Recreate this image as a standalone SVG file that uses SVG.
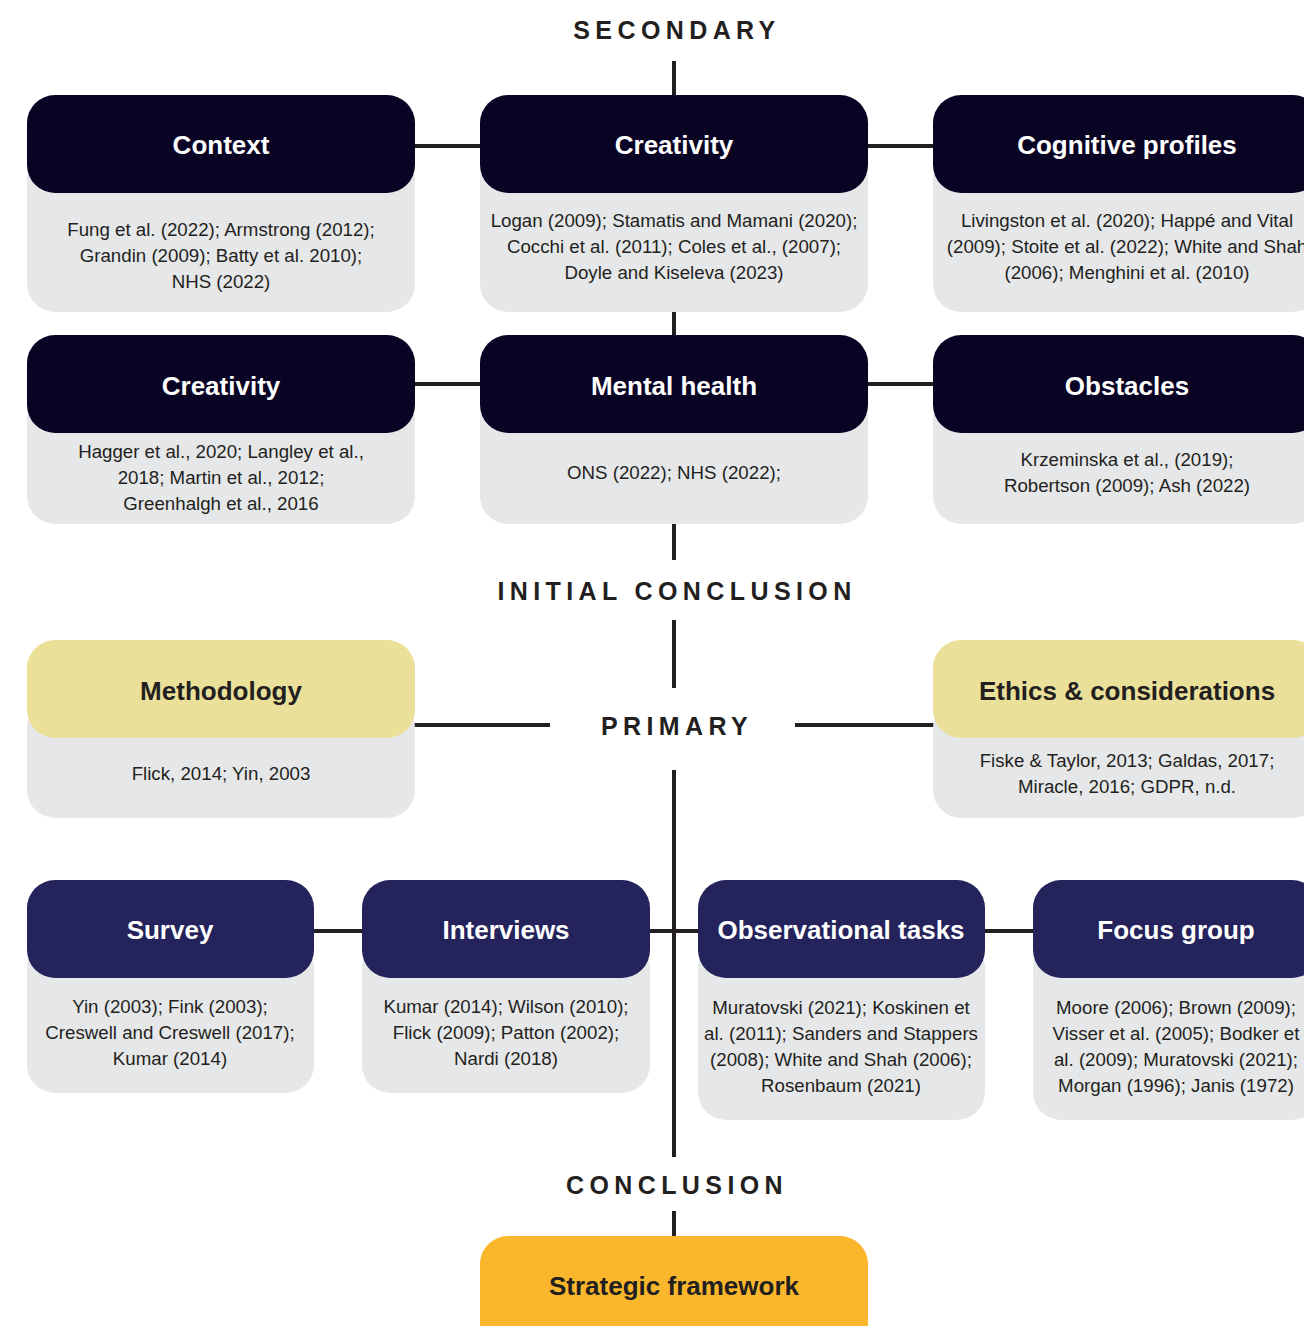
<svg xmlns="http://www.w3.org/2000/svg" width="1304" height="1326" viewBox="0 0 1304 1326">
<style>
.bg{fill:#ffffff}
.card{fill:#e6e7e9}
.hd{fill:#0a0424}
.hb{fill:#24235c}
.hy{fill:#ebe09a}
.ho{fill:#fbb72c}
.ht{font-family:"Liberation Sans",Arial,sans-serif;font-weight:bold;font-size:26px;fill:#ffffff;text-anchor:middle}
.htd{font-family:"Liberation Sans",Arial,sans-serif;font-weight:bold;font-size:26px;fill:#231f20;text-anchor:middle}
.bt{font-family:"Liberation Sans",Arial,sans-serif;font-size:18.7px;fill:#231f20;text-anchor:middle}
.lb{font-family:"Liberation Sans",Arial,sans-serif;font-weight:bold;font-size:25px;fill:#231f20;text-anchor:middle;letter-spacing:5.4px}
.cn{stroke:#231f20;stroke-width:4;fill:none}
</style>
<rect class="bg" x="0" y="0" width="1304" height="1326"/>
<g id="connectors">
<path class="cn" d="M674 61V95 M674 312V335 M674 524V560 M674 620V688 M674 770V1157 M674 1211V1236"/>
<path class="cn" d="M415 146H480 M868 146H933 M415 384H480 M868 384H933"/>
<path class="cn" d="M410 725H550 M795 725H940"/>
<path class="cn" d="M314 931H362 M650 931H698 M985 931H1033"/>
</g>
<g id="labels">
<text class="lb" x="677" y="39">SECONDARY</text>
<text class="lb" x="677" y="600">INITIAL CONCLUSION</text>
<text class="lb" x="677" y="735">PRIMARY</text>
<text class="lb" x="677" y="1194">CONCLUSION</text>
</g>
<g id="context">
<rect class="card" x="27" y="150" width="388" height="162" rx="28"/>
<rect class="hd" x="27" y="95" width="388" height="98" rx="28"/>
<text class="ht" x="221" y="154">Context</text>
<text class="bt" x="221" y="236">Fung et al. (2022); Armstrong (2012);</text>
<text class="bt" x="221" y="262">Grandin (2009); Batty et al. 2010);</text>
<text class="bt" x="221" y="288">NHS (2022)</text>
</g>
<g id="creativity-top">
<rect class="card" x="480" y="150" width="388" height="162" rx="28"/>
<rect class="hd" x="480" y="95" width="388" height="98" rx="28"/>
<text class="ht" x="674" y="154">Creativity</text>
<text class="bt" x="674" y="227">Logan (2009); Stamatis and Mamani (2020);</text>
<text class="bt" x="674" y="253">Cocchi et al. (2011); Coles et al., (2007);</text>
<text class="bt" x="674" y="279">Doyle and Kiseleva (2023)</text>
</g>
<g id="cognitive-profiles">
<rect class="card" x="933" y="150" width="388" height="162" rx="28"/>
<rect class="hd" x="933" y="95" width="388" height="98" rx="28"/>
<text class="ht" x="1127" y="154">Cognitive profiles</text>
<text class="bt" x="1127" y="227">Livingston et al. (2020); Happé and Vital</text>
<text class="bt" x="1127" y="253">(2009); Stoite et al. (2022); White and Shah</text>
<text class="bt" x="1127" y="279">(2006); Menghini et al. (2010)</text>
</g>
<g id="creativity-2">
<rect class="card" x="27" y="390" width="388" height="134" rx="28"/>
<rect class="hd" x="27" y="335" width="388" height="98" rx="28"/>
<text class="ht" x="221" y="395">Creativity</text>
<text class="bt" x="221" y="458">Hagger et al., 2020; Langley et al.,</text>
<text class="bt" x="221" y="484">2018; Martin et al., 2012;</text>
<text class="bt" x="221" y="510">Greenhalgh et al., 2016</text>
</g>
<g id="mental-health">
<rect class="card" x="480" y="390" width="388" height="134" rx="28"/>
<rect class="hd" x="480" y="335" width="388" height="98" rx="28"/>
<text class="ht" x="674" y="395">Mental health</text>
<text class="bt" x="674" y="479">ONS (2022); NHS (2022);</text>
</g>
<g id="obstacles">
<rect class="card" x="933" y="390" width="388" height="134" rx="28"/>
<rect class="hd" x="933" y="335" width="388" height="98" rx="28"/>
<text class="ht" x="1127" y="395">Obstacles</text>
<text class="bt" x="1127" y="466">Krzeminska et al., (2019);</text>
<text class="bt" x="1127" y="492">Robertson (2009); Ash (2022)</text>
</g>
<g id="methodology">
<rect class="card" x="27" y="700" width="388" height="118" rx="28"/>
<rect class="hy" x="27" y="640" width="388" height="98" rx="28"/>
<text class="htd" x="221" y="700">Methodology</text>
<text class="bt" x="221" y="780">Flick, 2014; Yin, 2003</text>
</g>
<g id="ethics">
<rect class="card" x="933" y="700" width="388" height="118" rx="28"/>
<rect class="hy" x="933" y="640" width="388" height="98" rx="28"/>
<text class="htd" x="1127" y="700">Ethics &amp; considerations</text>
<text class="bt" x="1127" y="767">Fiske &amp; Taylor, 2013; Galdas, 2017;</text>
<text class="bt" x="1127" y="793">Miracle, 2016; GDPR, n.d.</text>
</g>
<g id="survey">
<rect class="card" x="27" y="940" width="287" height="153" rx="28"/>
<rect class="hb" x="27" y="880" width="287" height="98" rx="28"/>
<text class="ht" x="170" y="939">Survey</text>
<text class="bt" x="170" y="1013">Yin (2003); Fink (2003);</text>
<text class="bt" x="170" y="1039">Creswell and Creswell (2017);</text>
<text class="bt" x="170" y="1065">Kumar (2014)</text>
</g>
<g id="interviews">
<rect class="card" x="362" y="940" width="288" height="153" rx="28"/>
<rect class="hb" x="362" y="880" width="288" height="98" rx="28"/>
<text class="ht" x="506" y="939">Interviews</text>
<text class="bt" x="506" y="1013">Kumar (2014); Wilson (2010);</text>
<text class="bt" x="506" y="1039">Flick (2009); Patton (2002);</text>
<text class="bt" x="506" y="1065">Nardi (2018)</text>
</g>
<g id="observational-tasks">
<rect class="card" x="698" y="940" width="287" height="180" rx="28"/>
<rect class="hb" x="698" y="880" width="287" height="98" rx="28"/>
<text class="ht" x="841" y="939">Observational tasks</text>
<text class="bt" x="841" y="1014">Muratovski (2021); Koskinen et</text>
<text class="bt" x="841" y="1040">al. (2011); Sanders and Stappers</text>
<text class="bt" x="841" y="1066">(2008); White and Shah (2006);</text>
<text class="bt" x="841" y="1092">Rosenbaum (2021)</text>
</g>
<g id="focus-group">
<rect class="card" x="1033" y="940" width="287" height="180" rx="28"/>
<rect class="hb" x="1033" y="880" width="287" height="98" rx="28"/>
<text class="ht" x="1176" y="939">Focus group</text>
<text class="bt" x="1176" y="1014">Moore (2006); Brown (2009);</text>
<text class="bt" x="1176" y="1040">Visser et al. (2005); Bodker et</text>
<text class="bt" x="1176" y="1066">al. (2009); Muratovski (2021);</text>
<text class="bt" x="1176" y="1092">Morgan (1996); Janis (1972)</text>
</g>
<g id="strategic-framework">
<rect class="ho" x="480" y="1236" width="388" height="130" rx="28"/>
<text class="htd" x="674" y="1295">Strategic framework</text>
</g>
</svg>
